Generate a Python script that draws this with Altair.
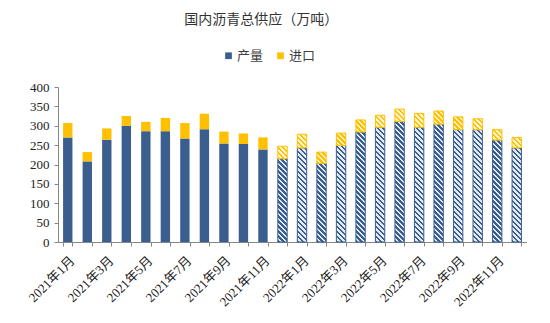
import altair as alt
import pandas as pd

months = [f"2021年{m}月" for m in range(1, 13)] + [f"2022年{m}月" for m in range(1, 13)]
production = [270, 208, 264, 300, 286, 286, 267, 291, 254, 253, 239, 215,
              243, 203, 249, 284, 296, 311, 296, 304, 290, 290, 263, 243]
totals = [307, 232, 293, 325, 310, 320, 307, 331, 285, 280, 270, 247,
          278, 232, 281, 315, 327, 343, 332, 338, 323, 318, 290, 270]
imports = [t - p for t, p in zip(totals, production)]
series = ["产量", "进口"]
# bars from 2021年12月 onward are drawn hatched in the reference
hatched_from = "2021年12月"

BLUE = "#3a5f8e"
YELLOW = "#ffc000"

start = months.index(hatched_from)
rows = []
for i, m in enumerate(months):
    h = i >= start
    rows.append({"month": m, "series": series[0], "y0": 0, "y1": production[i], "hatch": h})
    rows.append({"month": m, "series": series[1], "y0": production[i],
                 "y1": production[i] + imports[i], "hatch": h})
df = pd.DataFrame(rows)


def stripe_expr(dark, light, period=5.0, duty=0.5, n=30):
    W = "bandwidth('x')"
    H = "abs(scale('y',datum.y0)-scale('y',datum.y1))"
    S = f"({W}+{H})"
    C = f"({S}/({W}*{W}+{H}*{H}))"
    stops = []
    for k in range(n):
        a = k * period
        b = k * period + duty * period
        c = (k + 1) * period
        stops += [
            f"{{offset:{a}/{S},color:'{dark}'}}",
            f"{{offset:{b}/{S},color:'{dark}'}}",
            f"{{offset:{b}/{S},color:'{light}'}}",
            f"{{offset:{c}/{S},color:'{light}'}}",
        ]
    return (f"{{gradient:'linear',x1:0,y1:1,x2:{C}*{W},y2:1-{C}*{H},"
            f"stops:[{','.join(stops)}]}}")


xenc = alt.X("month:N", sort=months,
             scale=alt.Scale(domain=months, paddingInner=0.52, paddingOuter=0.26),
             axis=alt.Axis(title=None, labelAngle=-45, tickBand="extent",
                           labelExpr="(toNumber(split(split(datum.label,'年')[1],'月')[0]) % 2 == 1) ? datum.label : ''",
                           labelFont="Liberation Serif, Noto Sans CJK SC", labelFontSize=13,
                           labelColor="#222222", domainColor="#868686", tickColor="#868686",
                           tickSize=4, labelPadding=8))
yenc = alt.Y("y1:Q", scale=alt.Scale(domain=[0, 400], nice=False),
             axis=alt.Axis(title=None, values=list(range(0, 401, 50)), grid=False,
                           labelFont="Liberation Serif", labelFontSize=13,
                           labelColor="#222222", domainColor="#868686", tickColor="#868686",
                           tickSize=4, labelPadding=5))

base = alt.Chart(df)

solid = base.transform_filter("!datum.hatch").mark_bar().encode(
    x=xenc, y=yenc, y2="y0:Q",
    color=alt.Color("series:N", scale=alt.Scale(domain=series, range=[BLUE, YELLOW]),
                    legend=alt.Legend(title=None, orient="none", direction="horizontal",
                                      legendX=164, legendY=-38, symbolType="square",
                                      symbolSize=45, symbolStrokeWidth=0,
                                      labelFont="Noto Sans CJK SC", labelFontSize=13,
                                      labelColor="#404040", columnPadding=10, labelOffset=2)),
)

hatch_p = base.transform_filter("datum.hatch && datum.series == '产量'").mark_bar(
    fill=alt.expr(stripe_expr(BLUE, "#e3eaf4")), stroke=BLUE, strokeWidth=1
).encode(x=xenc, y=yenc, y2="y0:Q")

hatch_i = base.transform_filter("datum.hatch && datum.series == '进口'").mark_bar(
    fill=alt.expr(stripe_expr(YELLOW, "#fff4d0")), stroke=YELLOW, strokeWidth=1
).encode(x=xenc, y=yenc, y2="y0:Q")

chart = alt.layer(solid, hatch_p, hatch_i).properties(
    width=468.5, height=155,
    autosize=alt.AutoSizeParams(type="none"),
    padding={"left": 58, "top": 87, "right": 23.5, "bottom": 81},
    title=alt.TitleParams("国内沥青总供应（万吨）", font="Noto Sans CJK SC", fontSize=14,
                          fontWeight="normal", color="#333333", anchor="middle",
                          dx=-31, offset=22),
).configure_view(stroke=None)

chart.save("out.html", embed_options={"renderer": "svg", "actions": False})
